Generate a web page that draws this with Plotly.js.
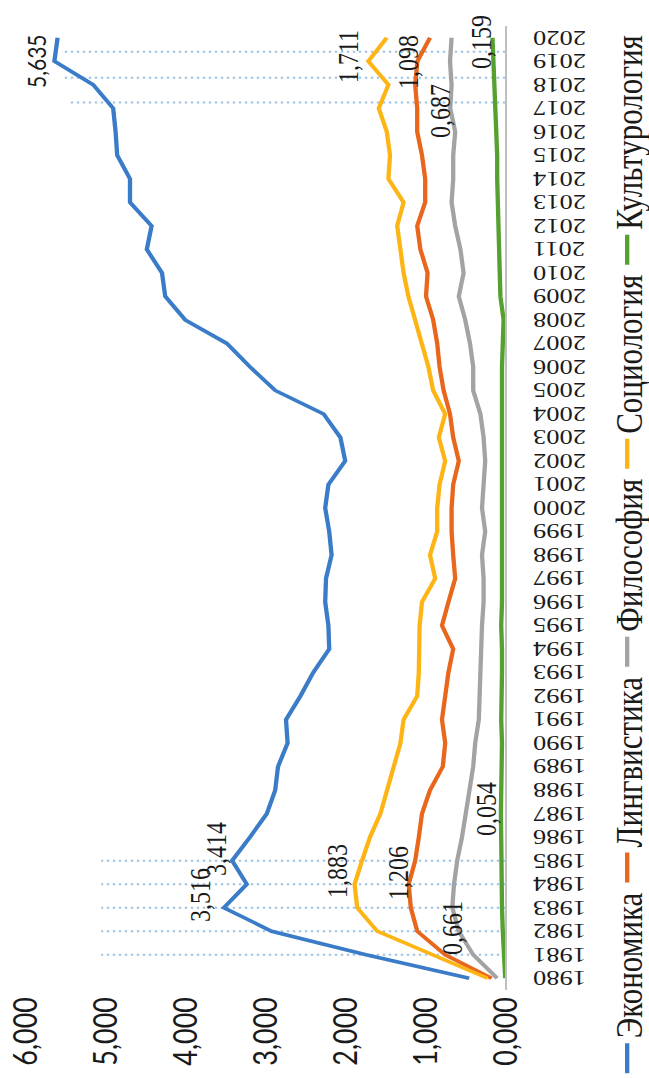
<!DOCTYPE html>
<html><head><meta charset="utf-8">
<script src="https://cdn.plot.ly/plotly-3.0.1.min.js"></script>
<style>
html,body{margin:0;padding:0;background:#fff;overflow:hidden;width:649px;height:1078px;}
#wrap{position:absolute;left:0;top:0;width:1078px;height:541px;transform-origin:0 0;}
</style></head><body>
<div id="wrap"></div>
<script>
const years = [1980,1981,1982,1983,1984,1985,1986,1987,1988,1989,1990,1991,1992,1993,1994,1995,1996,1997,1998,1999,2000,
  2001,2002,2003,2004,2005,2006,2007,2008,2009,2010,2011,2012,2013,2014,2015,2016,2017,2018,2019,2020];

const economics = [0.45,1.74,2.92,3.516,3.23,3.414,3.19,2.98,2.875,2.84,2.72,2.74,2.56,2.40,2.20,2.21,2.25,2.24,2.17,2.20,2.25,
  2.21,2.00,2.06,2.27,2.875,3.19,3.48,4.00,4.25,4.29,4.48,4.42,4.69,4.69,4.85,4.87,4.90,5.15,5.635,5.595];
const linguistics = [0.17,0.75,1.10,1.18,1.206,1.125,1.08,1.04,0.94,0.78,0.75,0.79,0.75,0.71,0.65,0.79,0.71,0.625,0.65,0.67,0.67,
  0.65,0.58,0.65,0.69,0.77,0.82,0.85,0.90,0.99,0.97,1.06,1.10,1.00,1.00,1.04,1.10,1.10,1.125,1.098,0.94];
const philosophy = [0.10,0.40,0.58,0.661,0.64,0.60,0.54,0.49,0.44,0.40,0.375,0.33,0.32,0.31,0.31,0.29,0.27,0.27,0.29,0.25,0.29,
  0.27,0.25,0.27,0.31,0.40,0.40,0.44,0.50,0.58,0.52,0.56,0.625,0.67,0.65,0.65,0.625,0.687,0.67,0.69,0.67];
const sociology = [0.22,0.92,1.60,1.85,1.883,1.79,1.69,1.56,1.48,1.39,1.31,1.27,1.10,1.08,1.07,1.07,1.04,0.875,0.94,0.85,0.85,
  0.82,0.75,0.83,0.75,0.90,0.96,1.04,1.125,1.21,1.27,1.31,1.35,1.27,1.46,1.44,1.48,1.58,1.46,1.711,1.48];
const culturology = [0.00,0.02,0.03,0.04,0.04,0.045,0.05,0.054,0.045,0.04,0.04,0.05,0.04,0.04,0.04,0.05,0.04,0.04,0.04,0.04,0.04,
  0.04,0.04,0.04,0.05,0.04,0.04,0.03,0.02,0.06,0.07,0.08,0.08,0.09,0.10,0.10,0.11,0.12,0.13,0.14,0.159];

const seriesNames = ['Экономика','Лингвистика','Философия','Социология','Культурология'];
const seriesColors = ['#3A7CC7','#E8671C','#A3A3A3','#FDB515','#55A02E'];
const seriesData = [economics, linguistics, philosophy, sociology, culturology];

const yTickVals = [0,1,2,3,4,5,6];
const guideYearsLow = [1981,1982,1983,1984,1985];
const guideYearsHigh = [2017.25,2018.3,2019.4];

const serif = 'Liberation Serif, Times New Roman, serif';
const sans = 'Lato, Liberation Sans, sans-serif';

const traces = seriesData.map((d,i)=>({
  type:'scatter', mode:'lines', x:years, y:d, name:seriesNames[i],
  line:{color:seriesColors[i], width:3.6}, hoverinfo:'skip'
}));

const shapes = [];
guideYearsLow.forEach(yr=>shapes.push({type:'line', xref:'x', yref:'y', x0:yr, x1:yr, y0:0, y1:5.05,
  layer:'below', line:{color:'#9DC3E6', width:2, dash:'2px,3px'}}));
guideYearsHigh.forEach((yr,i)=>shapes.push({type:'line', xref:'x', yref:'y', x0:yr, x1:yr, y0:0, y1:i===0?5.46:5.52,
  layer:'below', line:{color:'#9DC3E6', width:2, dash:'2px,3px'}}));

function fmt(v){ return v.toFixed(3).replace('.', ','); }
const labelSpecs = [
  {d:economics, yr:2019, dx:0, dy:16, f:sans, size:21},
  {d:economics, yr:1983, dx:13, dy:20, f:serif, size:24},
  {d:economics, yr:1985, dx:12, dy:13, f:serif, size:24},
  {d:sociology, yr:1984, dx:13, dy:14, f:serif, size:24},
  {d:linguistics, yr:1984, dx:11, dy:9, f:serif, size:24},
  {d:philosophy, yr:1983, dx:-20, dy:0, f:serif, size:24},
  {d:culturology, yr:1987, dx:5, dy:12, f:serif, size:24},
  {d:philosophy, yr:2017, dx:-3, dy:8, f:serif, size:24},
  {d:sociology, yr:2019, dx:5, dy:17, f:serif, size:24},
  {d:linguistics, yr:2019, dx:-1, dy:8, f:serif, size:24},
  {d:culturology, yr:2020, dx:-4, dy:9, f:serif, size:24}
];
const annotations = labelSpecs.map(s=>{
  const v = s.d[years.indexOf(s.yr)];
  return {x:s.yr, y:v, xref:'x', yref:'y', text:fmt(v), showarrow:false,
    xanchor:'center', yanchor:'middle', xshift:s.dx, yshift:s.dy,
    font:{family:s.f, size:s.size, color:'#1a1a1a'}};
});

const layout = {
  width:1078, height:541,
  margin:{l:88, r:26, t:21, b:120, pad:0, autoexpand:false},
  paper_bgcolor:'#fff', plot_bgcolor:'#fff',
  separators:', ',
  showlegend:true,
  legend:{orientation:'h', x:-0.0915, xanchor:'left', y:-0.255, yanchor:'middle',
    font:{family:serif, size:31, color:'#1a1a1a'}, bgcolor:'rgba(0,0,0,0)'},
  xaxis:{range:[1979.5,2020.5], tickvals:years, ticktext:years.map(String), tickangle:-90,
    showgrid:false, zeroline:false, showline:true, linecolor:'#BFBFBF', linewidth:1.5,
    ticks:'', ticklabelstandoff:13, tickfont:{family:serif, size:22, color:'#1a1a1a'}},
  yaxis:{range:[0,6], tickvals:yTickVals, tickformat:'.3f', showgrid:false, zeroline:false,
    showline:false, ticks:'', ticklabelstandoff:6, tickfont:{family:sans, size:27, color:'#1a1a1a'}},
  shapes:shapes,
  annotations:annotations
};
Plotly.newPlot('wrap', traces, layout, {staticPlot:true, displayModeBar:false}).then(()=>{
  document.getElementById('wrap').style.transform = 'translateY(1078px) rotate(-90deg) scale(1,1.2)';
});
</script>
</body></html>
